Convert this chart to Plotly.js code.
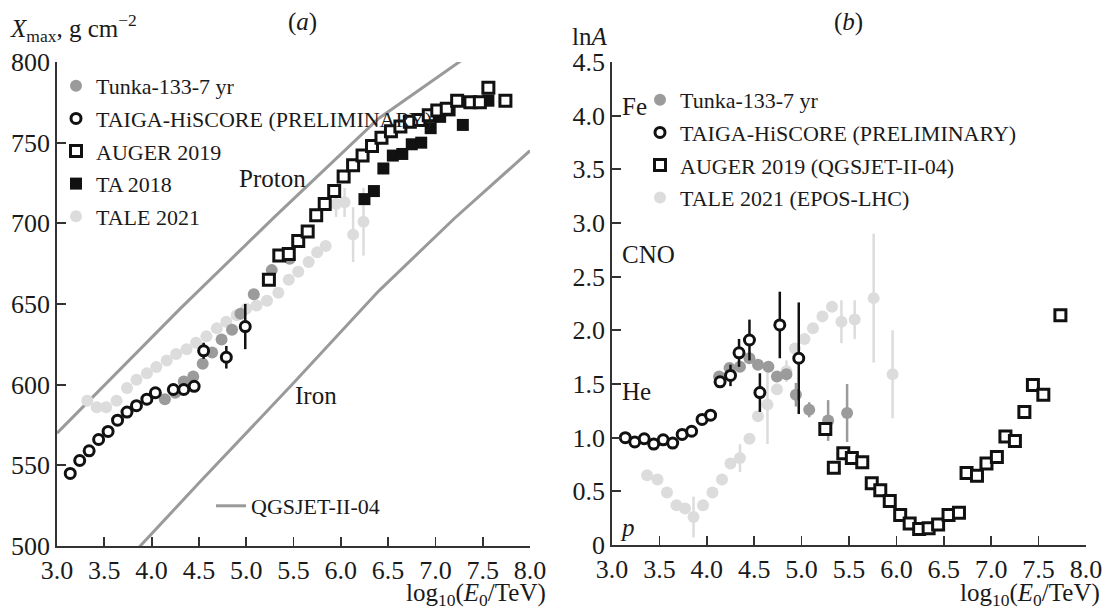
<!DOCTYPE html>
<html><head><meta charset="utf-8">
<script src="https://cdn.plot.ly/plotly-3.0.1.min.js"></script>
<style>html,body{margin:0;padding:0;background:#fff}#chart{width:1104px;height:607px}</style>
</head><body><div id="chart"></div>
<script>
// ---------- Panel (a): Xmax ----------
const tunkaA_x = [4.14, 4.25, 4.34, 4.44, 4.54, 4.64, 4.74, 4.85, 4.94, 5.08, 5.27, 5.46];
const tunkaA_y = [591, 595, 602, 605, 613, 620, 628, 634, 644, 656, 671, 678];

const taigaA_x = [3.14, 3.24, 3.34, 3.44, 3.54, 3.64, 3.74, 3.84, 3.95, 4.04, 4.23, 4.34, 4.45, 4.55, 4.79, 4.99];
const taigaA_y = [545, 553, 559, 566, 571, 578, 583, 587, 591, 595, 597, 597, 599, 621, 617, 636];
const taigaA_err = [0, 0, 0, 0, 0, 0, 0, 0, 0, 0, 0, 0, 0, 5, 7, 14];

const augerA_x = [5.24, 5.35, 5.45, 5.55, 5.65, 5.74, 5.83, 5.93, 6.03, 6.13, 6.23, 6.33, 6.43, 6.53, 6.63, 6.73, 6.83, 6.93, 7.02, 7.12, 7.23, 7.37, 7.47, 7.56, 7.74];
const augerA_y = [665, 680, 681, 689, 695, 705, 712, 720, 729, 736, 742, 748, 753, 757, 760, 763, 764, 767, 770, 771, 776, 775, 775, 784, 776];

const taA_x = [6.25, 6.35, 6.45, 6.55, 6.65, 6.75, 6.85, 6.95, 7.05, 7.15, 7.29, 7.45, 7.56];
const taA_y = [715, 720, 734, 742, 743, 749, 750, 759, 766, 770, 761, 775, 776];

const taleA_x = [3.32, 3.42, 3.52, 3.63, 3.74, 3.84, 3.95, 4.05, 4.16, 4.26, 4.37, 4.47, 4.58, 4.69, 4.79, 4.90, 5.00, 5.11, 5.22, 5.34, 5.45, 5.55, 5.66, 5.75, 5.84, 5.95, 6.04, 6.13, 6.24];
const taleA_y = [590, 586, 586, 590, 598, 603, 607, 611, 615, 619, 622, 626, 630, 635, 639, 643, 647, 649, 652, 657, 665, 670, 676, 682, 686, 712, 713, 693, 701];
const taleA_err = [0, 0, 0, 0, 0, 0, 0, 0, 0, 0, 0, 0, 0, 0, 0, 0, 0, 0, 0, 0, 0, 0, 0, 0, 0, 8, 9, 17, 21];

const protonX = [3.0, 4.3, 5.3, 6.4, 7.3];
const protonY = [570, 647, 704, 765, 802];
const ironX = [3.8, 4.5, 5.5, 6.4, 7.2, 8.0];
const ironY = [495, 539, 601, 658, 703, 745];

// ---------- Panel (b): lnA ----------
const tunkaB_x = [4.13, 4.24, 4.35, 4.45, 4.54, 4.65, 4.74, 4.84, 4.94, 5.08, 5.28, 5.48];
const tunkaB_y = [1.57, 1.65, 1.66, 1.74, 1.68, 1.66, 1.57, 1.59, 1.40, 1.26, 1.16, 1.23];
const tunkaB_err = [0, 0, 0, 0, 0, 0, 0, 0, 0.11, 0.07, 0.19, 0.27];

const taigaB_x = [3.14, 3.24, 3.34, 3.44, 3.54, 3.64, 3.74, 3.84, 3.95, 4.04, 4.14, 4.25, 4.34, 4.45, 4.56, 4.77, 4.97];
const taigaB_y = [1.00, 0.96, 0.99, 0.94, 0.98, 0.95, 1.03, 1.06, 1.17, 1.21, 1.52, 1.58, 1.79, 1.91, 1.42, 2.05, 1.74];
const taigaB_err = [0, 0, 0, 0, 0, 0, 0, 0, 0, 0, 0.05, 0.10, 0.13, 0.19, 0.18, 0.31, 0.52];

const augerB_x = [5.25, 5.34, 5.44, 5.53, 5.64, 5.74, 5.83, 5.93, 6.04, 6.14, 6.24, 6.34, 6.44, 6.55, 6.66, 6.74, 6.85, 6.95, 7.06, 7.15, 7.25, 7.35, 7.44, 7.55, 7.73];
const augerB_y = [1.08, 0.72, 0.855, 0.81, 0.77, 0.575, 0.51, 0.41, 0.28, 0.20, 0.15, 0.155, 0.19, 0.28, 0.30, 0.67, 0.645, 0.76, 0.82, 1.01, 0.97, 1.24, 1.49, 1.40, 2.14];

const taleB_x = [3.37, 3.48, 3.58, 3.68, 3.77, 3.86, 3.96, 4.06, 4.16, 4.25, 4.35, 4.45, 4.54, 4.64, 4.74, 4.84, 4.93, 5.03, 5.12, 5.22, 5.32, 5.42, 5.56, 5.76, 5.96];
const taleB_y = [0.65, 0.61, 0.49, 0.37, 0.34, 0.26, 0.37, 0.49, 0.61, 0.76, 0.81, 0.99, 1.20, 1.31, 1.45, 1.62, 1.83, 1.92, 2.02, 2.13, 2.22, 2.08, 2.10, 2.30, 1.59];
const taleB_err = [0, 0, 0, 0, 0, 0.19, 0, 0, 0.05, 0, 0.13, 0, 0, 0.37, 0, 0.1, 0, 0, 0, 0, 0, 0.2, 0.18, 0.6, 0.41];

// ---------- Axis ticks ----------
const xTicks = [3.0, 3.5, 4.0, 4.5, 5.0, 5.5, 6.0, 6.5, 7.0, 7.5, 8.0];
const xTickText = ['3.0', '3.5', '4.0', '4.5', '5.0', '5.5', '6.0', '6.5', '7.0', '7.5', '8.0'];
const yTicksA = [500, 550, 600, 650, 700, 750, 800];
const yTicksB = [0, 0.5, 1.0, 1.5, 2.0, 2.5, 3.0, 3.5, 4.0, 4.5];
const yTickTextB = ['0', '0.5', '1.0', '1.5', '2.0', '2.5', '3.0', '3.5', '4.0', '4.5'];

// ---------- Styles ----------
const FONT = 'Liberation Serif, Times New Roman, serif';
const C_TUNKA = '#9b9b9b', C_TALE = '#dcdcdc', C_BLACK = '#111', C_LINE = '#9a9a9a';

function errs(arr, color) {
  return {type: 'data', array: arr, visible: true, color: color, thickness: 2.5, width: 0};
}

const openCircle = {symbol: 'circle', size: 10, color: '#fff', line: {color: C_BLACK, width: 3}};
const openSquare = {symbol: 'square', size: 11, color: '#fff', line: {color: C_BLACK, width: 3}};

const traces = [
  // Panel a
  {x: protonX, y: protonY, mode: 'lines', line: {color: C_LINE, width: 3},
   name: 'QGSJET-II-04', legend: 'legend3', xaxis: 'x', yaxis: 'y'},
  {x: ironX, y: ironY, mode: 'lines', line: {color: C_LINE, width: 3},
   showlegend: false, xaxis: 'x', yaxis: 'y'},
  {x: taleA_x, y: taleA_y, error_y: errs(taleA_err, C_TALE), mode: 'markers', name: 'TALE 2021',
   marker: {symbol: 'circle', size: 12, color: C_TALE}, legend: 'legend', legendrank: 5, legendgroup: 'a5', xaxis: 'x', yaxis: 'y'},
  {x: tunkaA_x, y: tunkaA_y, mode: 'markers', name: 'Tunka-133-7 yr',
   marker: {symbol: 'circle', size: 12, color: C_TUNKA}, legend: 'legend', legendrank: 1, legendgroup: 'a1', xaxis: 'x', yaxis: 'y'},
  {x: taigaA_x, y: taigaA_y, error_y: errs(taigaA_err, C_BLACK), mode: 'markers', name: 'TAIGA-HiSCORE (PRELIMINARY)',
   marker: openCircle, legend: 'legend', legendrank: 2, legendgroup: 'a2', xaxis: 'x', yaxis: 'y'},
  {x: taA_x, y: taA_y, mode: 'markers', name: 'TA 2018',
   marker: {symbol: 'square', size: 12, color: C_BLACK}, legend: 'legend', legendrank: 4, legendgroup: 'a4', xaxis: 'x', yaxis: 'y'},
  {x: augerA_x, y: augerA_y, mode: 'markers', name: 'AUGER 2019',
   marker: openSquare, legend: 'legend', legendrank: 3, legendgroup: 'a3', xaxis: 'x', yaxis: 'y'},
  // Panel b
  {x: taleB_x, y: taleB_y, error_y: errs(taleB_err, C_TALE), mode: 'markers', name: 'TALE 2021 (EPOS-LHC)',
   marker: {symbol: 'circle', size: 12, color: C_TALE}, legend: 'legend2', legendrank: 4, legendgroup: 'b4', xaxis: 'x2', yaxis: 'y2'},
  {x: tunkaB_x, y: tunkaB_y, error_y: errs(tunkaB_err, C_TUNKA), mode: 'markers', name: 'Tunka-133-7 yr',
   marker: {symbol: 'circle', size: 12, color: C_TUNKA}, legend: 'legend2', legendrank: 1, legendgroup: 'b1', xaxis: 'x2', yaxis: 'y2'},
  {x: taigaB_x, y: taigaB_y, error_y: errs(taigaB_err, C_BLACK), mode: 'markers', name: 'TAIGA-HiSCORE (PRELIMINARY)',
   marker: openCircle, legend: 'legend2', legendrank: 2, legendgroup: 'b2', xaxis: 'x2', yaxis: 'y2'},
  {x: augerB_x, y: augerB_y, mode: 'markers', name: 'AUGER 2019 (QGSJET-II-04)',
   marker: openSquare, legend: 'legend2', legendrank: 3, legendgroup: 'b3', xaxis: 'x2', yaxis: 'y2'}
];

const W = 1104, H = 607;
const px = v => v / W, py = v => 1 - v / H;

const axisBase = {
  showgrid: false, zeroline: false, showline: true, linecolor: '#333', linewidth: 1.8,
  ticks: 'inside', ticklen: 9, tickwidth: 1.8, tickcolor: '#333',
  tickfont: {family: FONT, size: 26, color: '#1a1a1a'}, fixedrange: true
};

const legendBase = {
  font: {family: FONT, size: 22, color: '#1a1a1a'}, bgcolor: 'rgba(0,0,0,0)', borderwidth: 0,
  xanchor: 'left', yanchor: 'top', traceorder: 'grouped', tracegroupgap: 1, itemclick: false, itemdoubleclick: false
};

function ann(text, x, y, xanchor, size) {
  return {text: text, x: x, y: y, xref: 'paper', yref: 'paper', xanchor: xanchor || 'left', yanchor: 'middle',
          showarrow: false, font: {family: FONT, size: size || 25, color: '#1a1a1a'}};
}

const layout = {
  width: W, height: H, margin: {l: 0, r: 0, t: 0, b: 0}, paper_bgcolor: '#fff', plot_bgcolor: 'rgba(0,0,0,0)',
  showlegend: true,
  xaxis: Object.assign({}, axisBase, {domain: [px(57), px(530)], range: [3, 8], tickvals: xTicks, ticktext: xTickText, anchor: 'y'}),
  yaxis: Object.assign({}, axisBase, {domain: [py(546), py(62)], range: [500, 800], tickvals: yTicksA, anchor: 'x'}),
  xaxis2: Object.assign({}, axisBase, {domain: [px(612), px(1086)], range: [3, 8], tickvals: xTicks, ticktext: xTickText, anchor: 'y2'}),
  yaxis2: Object.assign({}, axisBase, {domain: [py(545), py(62)], range: [0, 4.5], tickvals: yTicksB, ticktext: yTickTextB, anchor: 'x2'}),
  legend: Object.assign({}, legendBase, {x: px(56), y: py(65)}),
  legend2: Object.assign({}, legendBase, {x: px(640), y: py(79)}),
  legend3: Object.assign({}, legendBase, {x: px(211), y: py(485)}),
  annotations: [
    ann('<i>X</i><sub>max</sub>, g cm<sup>−2</sup>', px(8), py(28)),
    ann('(<i>a</i>)', px(302), py(22), 'center'),
    ann('(<i>b</i>)', px(848), py(22), 'center'),
    ann('ln<i>A</i>', px(570), py(37)),
    ann('Proton', px(272), py(178), 'center'),
    ann('Iron', px(316), py(395), 'center'),
    ann('Fe', px(620), py(107)),
    ann('CNO', px(620), py(255)),
    ann('He', px(620), py(392)),
    ann('<i>p</i>', px(618), py(527)),
    ann('log<sub>10</sub>(<i>E</i><sub>0</sub>/TeV)', px(548), py(594), 'right'),
    ann('log<sub>10</sub>(<i>E</i><sub>0</sub>/TeV)', px(1102), py(594), 'right')
  ]
};

Plotly.newPlot('chart', traces, layout, {displayModeBar: false, staticPlot: true});
</script>
</body></html>
